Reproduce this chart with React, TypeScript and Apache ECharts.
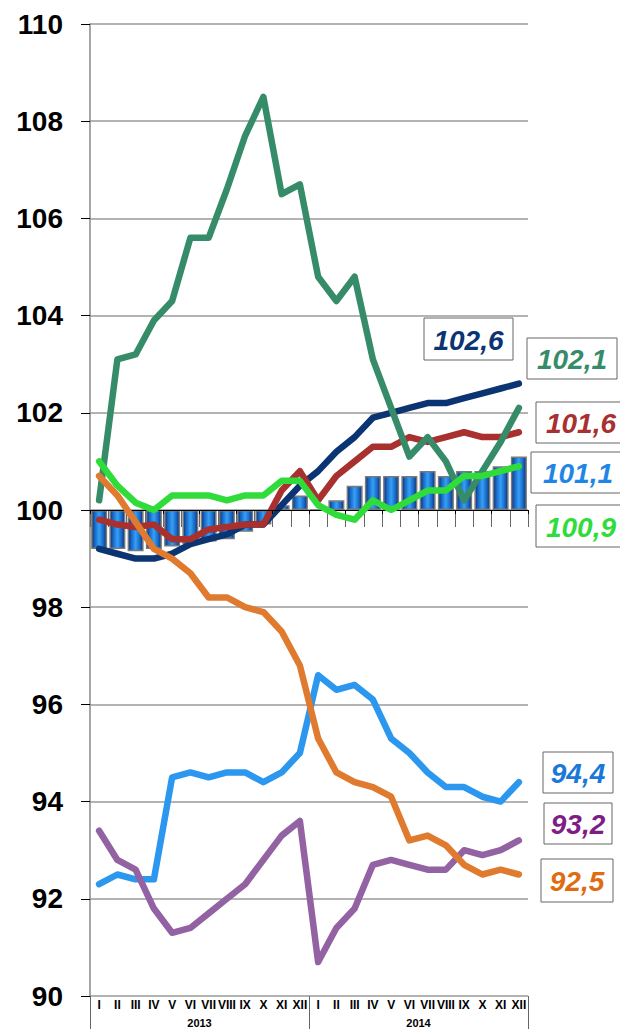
import React, { useEffect, useRef } from "react";
import * as echarts from "echarts";

const months = ["I", "II", "III", "IV", "V", "VI", "VII", "VIII", "IX", "X", "XI", "XII"];
const categories = [...months, ...months];
const years = ["2013", "2014"];
const yTicks = { min: 90, max: 110, step: 2 };

const barValues = [99.2, 99.2, 99.15, 99.2, 99.25, 99.3, 99.35, 99.4, 99.55, 99.7, 100.1, 100.3, 100.0, 100.2, 100.5, 100.7, 100.7, 100.7, 100.8, 100.7, 100.8, 100.8, 100.9, 101.1];
const navy = [99.2, 99.1, 99.0, 99.0, 99.1, 99.3, 99.4, 99.5, 99.7, 99.7, 100.1, 100.5, 100.8, 101.2, 101.5, 101.9, 102.0, 102.1, 102.2, 102.2, 102.3, 102.4, 102.5, 102.6];
const seaGreen = [100.2, 103.1, 103.2, 103.9, 104.3, 105.6, 105.6, 106.6, 107.7, 108.5, 106.5, 106.7, 104.8, 104.3, 104.8, 103.1, 102.1, 101.1, 101.5, 101.0, 100.2, 100.8, 101.4, 102.1];
const red = [99.8, 99.7, 99.65, 99.7, 99.4, 99.4, 99.6, 99.65, 99.7, 99.7, 100.4, 100.8, 100.2, 100.7, 101.0, 101.3, 101.3, 101.5, 101.4, 101.5, 101.6, 101.5, 101.5, 101.6];
const brightGreen = [101.0, 100.5, 100.15, 100.0, 100.3, 100.3, 100.3, 100.2, 100.3, 100.3, 100.6, 100.6, 100.1, 99.9, 99.8, 100.2, 100.0, 100.2, 100.4, 100.4, 100.7, 100.7, 100.8, 100.9];
const orange = [100.7, 100.3, 99.75, 99.2, 99.0, 98.7, 98.2, 98.2, 98.0, 97.9, 97.5, 96.8, 95.3, 94.6, 94.4, 94.3, 94.1, 93.2, 93.3, 93.1, 92.7, 92.5, 92.6, 92.5];
const lightBlue = [92.3, 92.5, 92.4, 92.4, 94.5, 94.6, 94.5, 94.6, 94.6, 94.4, 94.6, 95.0, 96.6, 96.3, 96.4, 96.1, 95.3, 95.0, 94.6, 94.3, 94.3, 94.1, 94.0, 94.4];
const purple = [93.4, 92.8, 92.6, 91.8, 91.3, 91.4, 91.7, 92.0, 92.3, 92.8, 93.3, 93.6, 90.7, 91.4, 91.8, 92.7, 92.8, 92.7, 92.6, 92.6, 93.0, 92.9, 93.0, 93.2];

const BASE = 100;
const FONT = "'Liberation Sans', Arial, sans-serif";

const C = {
  navy: "#0b3473",
  sea: "#368c69",
  red: "#a8302f",
  bright: "#2fdc3a",
  orange: "#e07a2e",
  light: "#2b97ee",
  purple: "#9262a2",
  barText: "#1f86e6",
};

const fmt = (v: number) => v.toFixed(1).replace(".", ",");
const last = (a: number[]) => a[a.length - 1];

export default function App() {
  const ref = useRef<HTMLDivElement>(null);
  useEffect(() => {
    document.body.style.margin = "0";
    const chart = echarts.init(ref.current!, null, { renderer: "svg" });

    const line = (data: number[], color: string, z: number) => ({
      type: "line",
      data,
      xAxisIndex: 0,
      yAxisIndex: 0,
      symbol: "none",
      z,
      lineStyle: { color, width: 6.5, join: "round", cap: "round" },
      itemStyle: { color },
    });

    const box = (x: number, y: number, w: number, h: number, text: string, color: string) => [
      {
        type: "rect",
        shape: { x, y, width: w, height: h },
        style: { fill: "#fff", stroke: "#666", lineWidth: 1 },
        z: 100,
      },
      {
        type: "text",
        x: x + w / 2,
        y: y + h / 2 + 1,
        style: {
          text,
          fill: color,
          font: `italic bold 28px ${FONT}`,
          align: "center",
          verticalAlign: "middle",
          textAlign: "center",
          textVerticalAlign: "middle",
        },
        z: 101,
      },
    ];

    const barGrad = new echarts.graphic.LinearGradient(0, 0, 1, 0, [
      { offset: 0, color: "#0a2f72" },
      { offset: 0.2, color: "#1766c4" },
      { offset: 0.5, color: "#36a0f6" },
      { offset: 0.8, color: "#1766c4" },
      { offset: 1, color: "#0a2f72" },
    ]);

    chart.setOption({
      animation: false,
      backgroundColor: "#fff",
      grid: { left: 90, right: 92, top: 24, bottom: 33, containLabel: false },
      xAxis: [
        {
          type: "category",
          data: categories,
          position: "bottom",
          axisLine: { show: true, lineStyle: { color: "#888", width: 1 } },
          axisTick: { show: true, length: 17, lineStyle: { color: "#666" } },
          axisLabel: {
            interval: 0,
            margin: 3,
            color: "#000",
            fontWeight: "bold",
            fontSize: 12,
            fontFamily: FONT,
          },
          splitLine: { show: false },
        },
        {
          type: "category",
          data: categories,
          position: "bottom",
          offset: -486,
          axisLine: { show: true, lineStyle: { color: "#000", width: 1 } },
          axisTick: { show: true, length: 4, lineStyle: { color: "#000" } },
          axisLabel: { show: false },
          splitLine: { show: false },
          z: 5,
        },
        {
          type: "category",
          data: years,
          position: "bottom",
          axisLine: { show: false },
          axisTick: { show: true, length: 33, lineStyle: { color: "#666" } },
          axisLabel: {
            interval: 0,
            margin: 21,
            color: "#000",
            fontWeight: "bold",
            fontSize: 11,
            fontFamily: FONT,
          },
          splitLine: { show: false },
        },
      ],
      yAxis: [
        {
          type: "value",
          min: yTicks.min,
          max: yTicks.max,
          interval: yTicks.step,
          axisLine: { show: true, lineStyle: { color: "#888", width: 1.5 } },
          axisTick: { show: true, length: 9, lineStyle: { color: "#000" } },
          axisLabel: {
            margin: 27,
            color: "#000",
            fontWeight: "bold",
            fontSize: 28,
            fontFamily: FONT,
          },
          splitLine: { show: true, lineStyle: { color: "#9a9a9a", width: 1.5 } },
        },
        {
          type: "value",
          min: yTicks.min - BASE,
          max: yTicks.max - BASE,
          show: false,
          splitLine: { show: false },
        },
      ],
      series: [
        {
          type: "bar",
          data: barValues.map((v) => +(v - BASE).toFixed(2)),
          xAxisIndex: 0,
          yAxisIndex: 1,
          barWidth: 16,
          z: 2,
          itemStyle: { color: barGrad, borderColor: "#7a7a7a", borderWidth: 1.5 },
        },
        line(navy, C.navy, 3),
        line(red, C.red, 4),
        line(seaGreen, C.sea, 5),
        line(lightBlue, C.light, 6),
        line(purple, C.purple, 7),
        line(orange, C.orange, 8),
        line(brightGreen, C.bright, 9),
      ],
      graphic: [
        ...box(424, 318, 89, 42, fmt(last(navy)), C.navy),
        ...box(527, 338, 90, 41, fmt(last(seaGreen)), C.sea),
        ...box(536, 402, 90, 41, fmt(last(red)), C.red),
        ...box(531, 452, 94, 41, fmt(last(barValues)), C.barText),
        ...box(536, 505, 90, 42, fmt(last(brightGreen)), C.bright),
        ...box(543, 752, 70, 41, fmt(last(lightBlue)), "#1a78d8"),
        ...box(544, 803, 68, 41, fmt(last(purple)), "#7f1d86"),
        ...box(541, 859, 72, 43, fmt(last(orange)), "#e06c12"),
      ],
    });
    return () => chart.dispose();
  }, []);
  return <div ref={ref} style={{ width: 620, height: 1029 }} />;
}
